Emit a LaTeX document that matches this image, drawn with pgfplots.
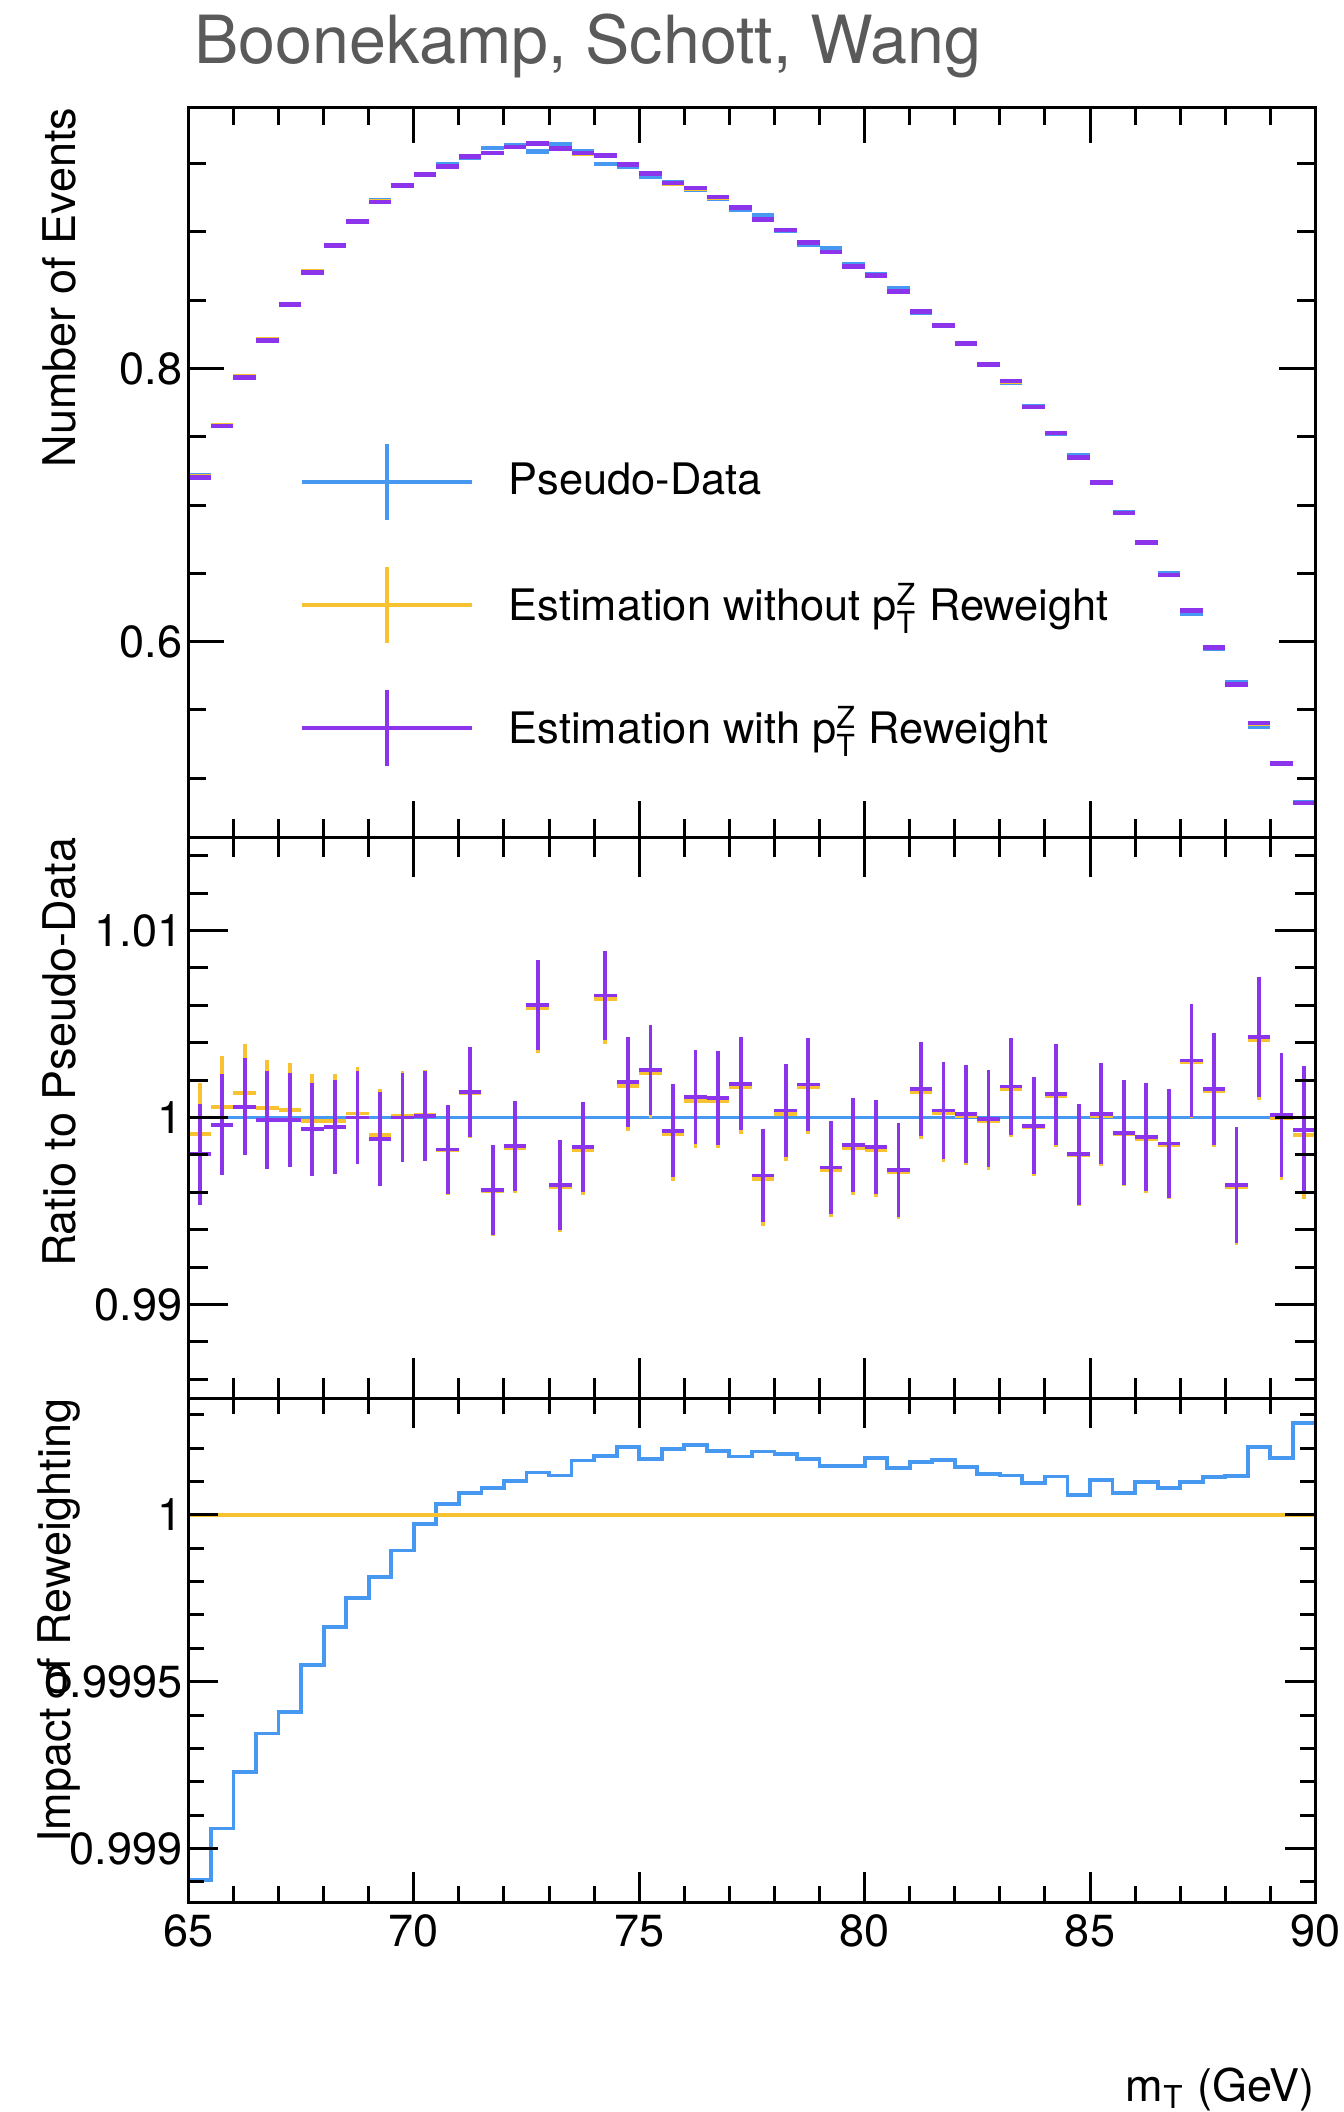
\documentclass[border=0pt]{standalone}
\usepackage{fontspec}
\setmainfont{TeX Gyre Heros}
\usepackage{pgfplots}
\pgfplotsset{compat=1.18}
\usepackage{pgfplotstable}

\definecolor{cblue}{RGB}{70,152,240}
\definecolor{cyel}{RGB}{248,194,48}
\definecolor{cpur}{RGB}{140,52,236}
\definecolor{tgray}{RGB}{90,90,90}

\newcommand{\lab}{\fontsize{11.25pt}{13.5pt}\selectfont}

\pgfplotstableread{
x blue yel pur
65.25 0.7216 0.7210 0.7202
65.75 0.7581 0.7585 0.7578
66.25 0.7930 0.7940 0.7934
66.75 0.8208 0.8212 0.8207
67.25 0.8469 0.8473 0.8468
67.75 0.8711 0.8709 0.8705
68.25 0.8905 0.8903 0.8900
68.75 0.9078 0.9080 0.9078
69.25 0.9231 0.9222 0.9220
69.75 0.9340 0.9341 0.9340
70.25 0.9421 0.9422 0.9422
70.75 0.9497 0.9481 0.9481
71.25 0.9541 0.9553 0.9554
71.75 0.9615 0.9577 0.9578
72.25 0.9637 0.9621 0.9622
72.75 0.9590 0.9646 0.9647
73.25 0.9645 0.9609 0.9610
73.75 0.9593 0.9576 0.9578
74.25 0.9499 0.9559 0.9561
74.75 0.9478 0.9494 0.9496
75.25 0.9403 0.9425 0.9427
75.75 0.9366 0.9357 0.9359
76.25 0.9312 0.9320 0.9322
76.75 0.9246 0.9254 0.9256
77.25 0.9162 0.9177 0.9179
77.75 0.9119 0.9089 0.9091
78.25 0.9012 0.9013 0.9015
78.75 0.8907 0.8922 0.8923
79.25 0.8878 0.8853 0.8854
79.75 0.8761 0.8747 0.8748
80.25 0.8693 0.8678 0.8679
80.75 0.8590 0.8565 0.8566
81.25 0.8406 0.8418 0.8419
81.75 0.8311 0.8313 0.8314
82.25 0.8179 0.8180 0.8181
82.75 0.8031 0.8029 0.8030
83.25 0.7895 0.7907 0.7908
83.75 0.7722 0.7718 0.7719
84.25 0.7520 0.7528 0.7529
84.75 0.7361 0.7347 0.7347
85.25 0.7164 0.7164 0.7165
85.75 0.6947 0.6941 0.6941
86.25 0.6731 0.6723 0.6724
86.75 0.6498 0.6489 0.6489
87.25 0.6207 0.6225 0.6226
87.75 0.5948 0.5956 0.5957
88.25 0.5705 0.5683 0.5684
88.75 0.5380 0.5402 0.5403
89.25 0.5108 0.5108 0.5109
89.75 0.4821 0.4817 0.4818
}\toptab

\pgfplotstableread{
x pur yel err
65.25 0.99804 0.99914 0.0027
65.75 0.99962 1.00057 0.0027
66.25 1.00057 1.00132 0.0026
66.75 0.99987 1.00050 0.0026
67.25 0.99987 1.00042 0.0025
67.75 0.99937 0.99982 0.0025
68.25 0.99949 0.99982 0.0025
68.75 1.00000 1.00022 0.0025
69.25 0.99886 0.99905 0.0025
69.75 1.00000 1.00011 0.0024
70.25 1.00010 1.00013 0.0024
70.75 0.99829 0.99826 0.0024
71.25 1.00137 1.00131 0.0024
71.75 0.99613 0.99605 0.0024
72.25 0.99848 0.99838 0.0024
72.75 1.00600 1.00587 0.0024
73.25 0.99638 0.99626 0.0024
73.75 0.99842 0.99826 0.0024
74.25 1.00653 1.00635 0.0024
74.75 1.00190 1.00170 0.0024
75.25 1.00253 1.00236 0.0024
75.75 0.99930 0.99910 0.0025
76.25 1.00109 1.00088 0.0025
76.75 1.00105 1.00086 0.0025
77.25 1.00181 1.00164 0.0025
77.75 0.99690 0.99671 0.0025
78.25 1.00038 1.00020 0.0025
78.75 1.00177 1.00160 0.0025
79.25 0.99733 0.99718 0.0025
79.75 0.99853 0.99838 0.0025
80.25 0.99842 0.99825 0.0025
80.75 0.99720 0.99706 0.0025
81.25 1.00152 1.00136 0.0025
81.75 1.00038 1.00022 0.0026
82.25 1.00019 1.00005 0.0026
82.75 0.99994 0.99982 0.0026
83.25 1.00166 1.00154 0.0026
83.75 0.99956 0.99947 0.0026
84.25 1.00124 1.00113 0.0027
84.75 0.99804 0.99798 0.0027
85.25 1.00019 1.00009 0.0027
85.75 0.99918 0.99912 0.0028
86.25 0.99895 0.99885 0.0029
86.75 0.99861 0.99853 0.0029
87.25 1.00305 1.00295 0.0030
87.75 1.00152 1.00141 0.0030
88.25 0.99638 0.99626 0.0031
88.75 1.00432 1.00412 0.0032
89.25 1.00013 0.99996 0.0033
89.75 0.99933 0.99906 0.0034
}\midtab

\pgfplotstableread{
x r
65.0 0.998905
65.5 0.99906
66.0 0.99923
66.5 0.999345
67.0 0.99941
67.5 0.99955
68.0 0.999663
68.5 0.99975
69.0 0.999813
69.5 0.999893
70.0 0.999973
70.5 1.000033
71.0 1.000065
71.5 1.00008
72.0 1.000102
72.5 1.000127
73.0 1.000118
73.5 1.000163
74.0 1.000177
74.5 1.000203
75.0 1.000168
75.5 1.000198
76.0 1.00021
76.5 1.000192
77.0 1.000175
77.5 1.00019
78.0 1.000183
78.5 1.000168
79.0 1.000146
79.5 1.000146
80.0 1.000171
80.5 1.000141
81.0 1.000158
81.5 1.000165
82.0 1.000143
82.5 1.000123
83.0 1.000118
83.5 1.000095
84.0 1.000115
84.5 1.00006
85.0 1.000105
85.5 1.000065
86.0 1.000098
86.5 1.000081
87.0 1.000098
87.5 1.000113
88.0 1.000116
88.5 1.000203
89.0 1.000171
89.5 1.000275
90.0 1.000275
}\bottab

\pgfplotsset{
  panel/.style={
    scale only axis, width=281.75pt, xmin=65, xmax=90,
    axis on top, anchor=north west,
    axis line style={line width=0.75pt},
    every tick/.style={black, line width=0.75pt},
    tick align=inside, xtick pos=both, ytick pos=both,
    xtick={65,70,75,80,85,90}, minor x tick num=4,
    tick label style={font=\lab},
    yticklabel style={inner xsep=1.35pt},
    every axis y label/.style={at={(axis description cs:-0.1148,1)}, anchor=east, rotate=90, inner sep=0pt, font=\lab},
    every axis x label/.style={at={(axis description cs:1,-0.395)}, anchor=base east, inner sep=0pt, font=\lab},
  },
  errstyle/.style={draw=none, mark=none,
    error bars/x dir=both, error bars/x fixed=0.25, error bars/error mark=none,
    error bars/error bar style={draw=#1, line width=0.95pt, solid},
    legend image code/.code={
      \draw[mark=none, line width=0.95pt, draw=#1] (0pt,0pt) -- (42.5pt,0pt);
      \draw[mark=none, line width=0.95pt, draw=#1] (21.25pt,-9.5pt) -- (21.25pt,9.5pt);}},
  thickbar/.style={error bars/error bar style={line width=1.15pt}},
}

\begin{document}
\begin{tikzpicture}
\useasboundingbox (-47.1pt,26.75pt) rectangle (288.65pt,-501.25pt);

% ---------------- top panel ----------------
\begin{axis}[panel, at={(0pt,0pt)}, height=182.5pt,
  ymin=0.4569, ymax=0.9915,
  ytick={0.6,0.8}, yticklabels={0.6,0.8},
  minor ytick={0.5,0.55,0.65,0.7,0.75,0.85,0.9,0.95},
  xticklabels={},
  major tick length=9pt, minor tick length=4.5pt,
  ylabel={Number of Events},
  title={Boonekamp, Schott, Wang},
  every axis title shift=0pt,
  every axis title/.style={at={(axis description cs:0.0044,1.059)}, anchor=base west, inner sep=0pt,
    font=\fontsize{16.6pt}{19pt}\selectfont, text=tgray},
  legend style={at={(axis description cs:0.0981,0.5422)}, anchor=north west,
    draw=none, fill=none, inner sep=0pt, font=\fontsize{10.85pt}{13pt}\selectfont,
    row sep=10.8pt, column sep=6.8pt, nodes={inner sep=2pt}},
  legend cell align=left,
]
\addplot[errstyle=cblue, thickbar] table[x=x, y=blue] {\toptab};
\addlegendentry{Pseudo-Data}
\addplot[errstyle=cyel, thickbar] table[x=x, y=yel] {\toptab};
\addlegendentry{Estimation without $\mathrm{p}^{\mathrm{Z}}_{\mathrm{T}}$ Reweight}
\addplot[errstyle=cpur, thickbar] table[x=x, y=pur] {\toptab};
\addlegendentry{Estimation with $\mathrm{p}^{\mathrm{Z}}_{\mathrm{T}}$ Reweight}
\end{axis}

% ---------------- middle panel ----------------
\begin{axis}[panel, at={(0pt,-182.5pt)}, height=140.25pt,
  ymin=0.985, ymax=1.015,
  ytick={0.99,1,1.01}, yticklabels={0.99,1,1.01},
  minor ytick={0.986,0.988,0.992,0.994,0.996,0.998,1.002,1.004,1.006,1.008,1.012,1.014},
  xticklabels={},
  major tick length=10pt, minor tick length=5pt,
  ylabel={Ratio to Pseudo-Data},
]
\addplot[cblue, line width=0.85pt] coordinates {(65,1) (90,1)};
\addplot[errstyle=cyel, error bars/y dir=both, error bars/y explicit] table[x=x, y=yel, y error=err] {\midtab};
\addplot[errstyle=cpur, error bars/y dir=both, error bars/y explicit] table[x=x, y=pur, y error=err] {\midtab};
\end{axis}

% ---------------- bottom panel ----------------
\begin{axis}[panel, at={(0pt,-322.75pt)}, height=126pt,
  ymin=0.99884, ymax=1.00035,
  ytick={0.999,0.9995,1}, yticklabels={0.999,0.9995,1},
  minor ytick={0.9989,0.9991,0.9992,0.9993,0.9994,0.9996,0.9997,0.9998,0.9999,1.0001,1.0002,1.0003},
  xticklabels={65,70,75,80,85,90},
  xticklabel style={inner ysep=3pt},
  major tick length=7.5pt, minor tick length=3.9pt,
  ylabel={Impact of Reweighting},
  xlabel={$\mathrm{m}_{\mathrm{T}}$ (GeV)},
]
\addplot[cblue, line width=0.95pt, const plot] table[x=x, y=r] {\bottab};
\addplot[cyel, line width=0.95pt] coordinates {(65,1) (90,1)};
\end{axis}
\end{tikzpicture}
\end{document}
